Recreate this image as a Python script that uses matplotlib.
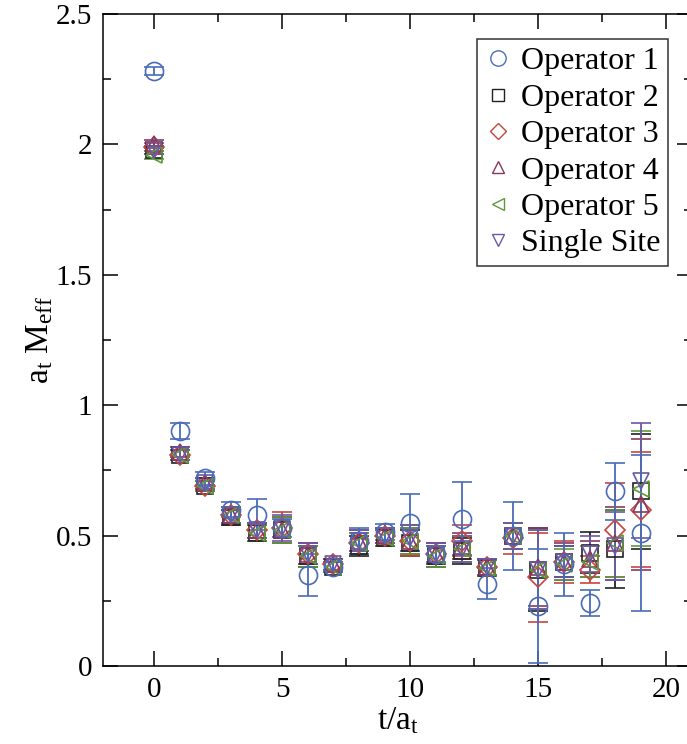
import matplotlib
matplotlib.use("Agg")
import matplotlib.pyplot as plt
import numpy as np
from matplotlib.lines import Line2D

plt.rcParams['font.family'] = ['Liberation Serif', 'DejaVu Serif']
plt.rcParams['mathtext.fontset'] = 'custom'
plt.rcParams['mathtext.rm'] = 'Liberation Serif'
plt.rcParams['mathtext.it'] = 'Liberation Serif:italic'

t = np.arange(20)

labels = ["Operator 1", "Operator 2", "Operator 3", "Operator 4", "Operator 5", "Single Site"]

op1 = [2.28, 0.90, 0.72, 0.60, 0.58, 0.53, 0.35, 0.38, 0.48, 0.515, 0.55, 0.43, 0.565, 0.315, 0.50, 0.23, 0.39, 0.24, 0.67, 0.51]
op1_err = [0.015, 0.03, 0.025, 0.03, 0.06, 0.035, 0.08, 0.02, 0.05, 0.03, 0.11, 0.03, 0.14, 0.06, 0.13, 0.22, 0.12, 0.05, 0.11, 0.30]

op2 = [1.98, 0.81, 0.69, 0.57, 0.51, 0.52, 0.42, 0.38, 0.46, 0.49, 0.47, 0.42, 0.44, 0.375, 0.50, 0.37, 0.40, 0.435, 0.45, 0.67]
op2_err = [0.015, 0.02, 0.02, 0.03, 0.03, 0.05, 0.04, 0.02, 0.04, 0.03, 0.05, 0.04, 0.05, 0.03, 0.05, 0.16, 0.06, 0.08, 0.15, 0.22]

op3 = [1.99, 0.81, 0.69, 0.58, 0.52, 0.53, 0.43, 0.39, 0.47, 0.50, 0.48, 0.43, 0.48, 0.38, 0.49, 0.34, 0.40, 0.37, 0.52, 0.60]
op3_err = [0.015, 0.02, 0.02, 0.03, 0.03, 0.06, 0.04, 0.02, 0.04, 0.03, 0.06, 0.04, 0.06, 0.03, 0.06, 0.17, 0.08, 0.05, 0.18, 0.22]

op4 = [2.00, 0.82, 0.70, 0.58, 0.52, 0.52, 0.43, 0.39, 0.48, 0.50, 0.48, 0.43, 0.46, 0.38, 0.50, 0.38, 0.40, 0.41, 0.47, 0.62]
op4_err = [0.015, 0.02, 0.02, 0.03, 0.03, 0.05, 0.04, 0.02, 0.04, 0.03, 0.05, 0.04, 0.05, 0.03, 0.05, 0.15, 0.07, 0.07, 0.14, 0.25]

op5 = [1.96, 0.81, 0.69, 0.58, 0.51, 0.52, 0.42, 0.38, 0.47, 0.49, 0.48, 0.42, 0.45, 0.375, 0.50, 0.37, 0.39, 0.40, 0.47, 0.68]
op5_err = [0.015, 0.02, 0.02, 0.03, 0.03, 0.05, 0.04, 0.02, 0.04, 0.03, 0.05, 0.04, 0.05, 0.03, 0.05, 0.15, 0.06, 0.06, 0.13, 0.22]

single = [1.98, 0.81, 0.70, 0.58, 0.52, 0.53, 0.43, 0.39, 0.48, 0.50, 0.49, 0.43, 0.45, 0.38, 0.50, 0.37, 0.40, 0.43, 0.46, 0.71]
single_err = [0.015, 0.02, 0.02, 0.03, 0.03, 0.05, 0.04, 0.02, 0.04, 0.03, 0.05, 0.04, 0.05, 0.03, 0.05, 0.15, 0.06, 0.07, 0.13, 0.22]

series = [op1, op2, op3, op4, op5, single]
errors = [op1_err, op2_err, op3_err, op4_err, op5_err, single_err]
markers = ['o', 's', 'D', '^', '<', 'v']
colors = ['#4a6cb8', '#222222', '#c8453e', '#8a3760', '#5e9a3c', '#6a58a8']
msizes = [13, 11, 10, 11, 11, 11]

fig = plt.figure(figsize=(6.87, 7.44), dpi=100)
fig.patch.set_facecolor('white')
ax = fig.add_axes([103/687, 78/744, 589/687, 652/744])

order = [1, 2, 3, 4, 5, 0]
for i in order:
    ax.errorbar(t, series[i], yerr=errors[i], fmt=markers[i], color=colors[i],
                mfc='none', mec=colors[i], ms=msizes[i], mew=1.2,
                elinewidth=1.3, capsize=7, capthick=1.3, label=labels[i])

ax.set_xlim(-2, 21)
ax.set_ylim(0, 2.5)
ax.set_xticks([0, 5, 10, 15, 20])
ax.set_xticks([2.5, 7.5, 12.5, 17.5], minor=True)
ax.set_yticks([0, 0.5, 1, 1.5, 2, 2.5])
ax.set_yticklabels(['0', '0.5', '1', '1.5', '2', '2.5'])
ax.set_yticks([0.25, 0.75, 1.25, 1.75, 2.25], minor=True)
ax.tick_params(which='both', direction='in', top=True, right=True, width=1.1, labelsize=21)
ax.tick_params(which='major', length=11, pad=8)
ax.tick_params(which='minor', length=5.5)
for s in ax.spines.values():
    s.set_linewidth(1.1)

ax.set_xlabel(r'$\mathregular{t/a_t}$', fontsize=24, labelpad=2)
ax.set_ylabel(r'$\mathregular{a_t\ M_{eff}}$', fontsize=24, labelpad=0)

leg_handles = [Line2D([], [], ls='none', marker=markers[i], mfc='none', mec=colors[i],
                      ms=msizes[i] * 0.85, mew=1.0) for i in range(6)]
leg = fig.legend(leg_handles, labels, loc='upper right',
                 bbox_to_anchor=(668/687, 1 - 39/744), fontsize=23,
                 frameon=True, fancybox=False, edgecolor='black',
                 handlelength=0.8, handletextpad=0.3, labelspacing=0.22,
                 borderpad=0.25, borderaxespad=0)
leg.get_frame().set_linewidth(1.1)

fig.savefig('out.png', dpi=100, facecolor='white')
